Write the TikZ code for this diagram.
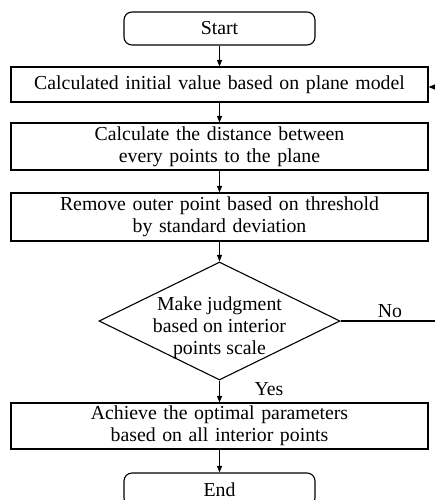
\documentclass[tikz,border=0pt]{standalone}
\usepackage{fontspec}
\setmainfont{Liberation Serif}
\usetikzlibrary{shapes.geometric,arrows.meta,positioning,calc}
\begin{document}
\begin{tikzpicture}[x=1pt,y=-1pt,
  font=\fontsize{19.8}{22}\selectfont,
  every node/.style={inner sep=0pt, align=center},
  procbox/.style={draw, line width=1.1pt, minimum width=417pt, text width=405pt},
  termbox/.style={draw, line width=1.1pt, rounded corners=8pt, minimum width=191pt, minimum height=33pt},
  decbox/.style={draw, line width=1.1pt, diamond, aspect=2.04, minimum width=241pt, minimum height=118pt},
  conn/.style={line width=1.1pt, -{Triangle[length=6.5pt,width=5pt]}},
  lbl/.style={font=\fontsize{19.8}{22}\selectfont}
]
\useasboundingbox (0,0) rectangle (435,500);
\clip (0,0) rectangle (435,500);
\node[termbox] (start) at (219.5,28.5) {Start};
\node[procbox, minimum height=35pt] (b1) at (219.5,84.5) {Calculated initial value based on plane model};
\node[procbox, minimum height=47pt] (b2) at (219.5,146.5) {Calculate the distance between\\every points to the plane};
\node[procbox, minimum height=48pt] (b3) at (219.5,217) {Remove outer point based on threshold\\by standard deviation};
\node[decbox] (dec) at (219.5,321) {};
\node at (219.5,328) {Make judgment\\based on interior\\points scale};
\node[procbox, minimum height=46pt] (b4) at (219.5,426) {Achieve the optimal parameters\\based on all interior points};
\node[termbox] (end) at (219.5,489.5) {End};
\coordinate (loop) at (445,321);
\draw[conn] (start) -- (b1);
\draw[conn] (b1) -- (b2);
\draw[conn] (b2) -- (b3);
\draw[conn] (b3) -- (dec);
\draw[conn] (dec) -- (b4);
\draw[conn] (b4) -- (end);
\draw[conn] (dec.east) -- (loop) |- ($(b1.east)+(0,2.5)$);
\node[lbl] (no) at (390,311) {No};
\node[lbl] (yes) at (269,389) {Yes};
\end{tikzpicture}
\end{document}
